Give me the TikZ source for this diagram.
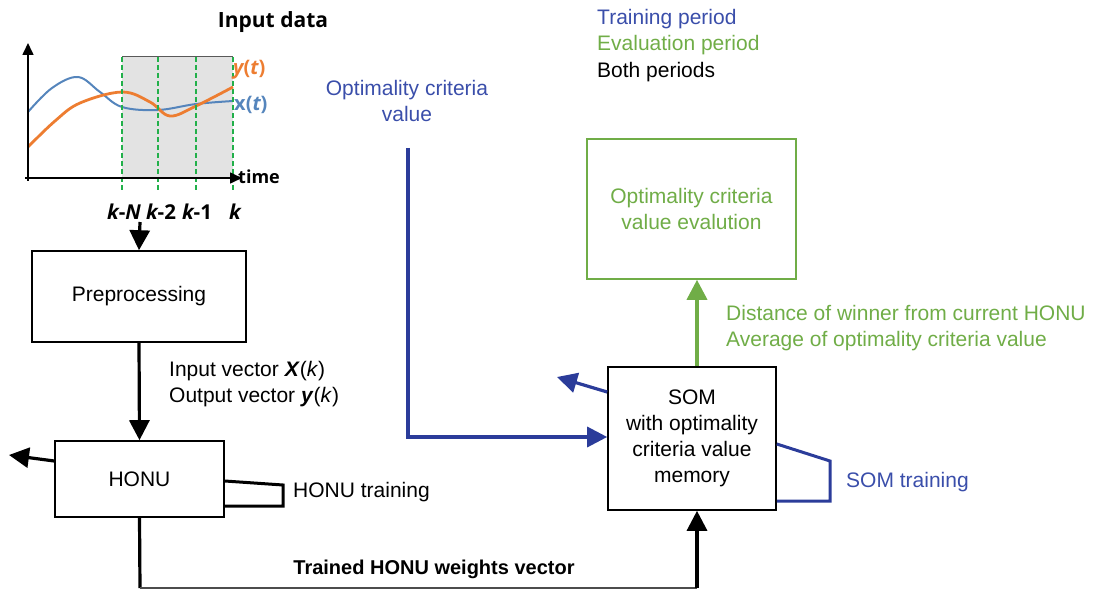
\documentclass[tikz,border=0pt]{standalone}
\usepackage{fontspec}
\setmainfont{Liberation Sans}
\newfontfamily\osans{Open Sans}
\usetikzlibrary{arrows.meta}
\definecolor{tblue}{HTML}{2B3C9A}
\definecolor{txblue}{HTML}{3A4EAA}
\definecolor{egreen}{HTML}{70AD47}
\definecolor{corange}{HTML}{ED7D31}
\definecolor{cblue}{HTML}{5585BC}
\definecolor{dgreen}{HTML}{22B04A}
\begin{document}
\begin{tikzpicture}[x=1pt,y=-1pt,
  font=\fontsize{21}{26}\selectfont,
  every node/.style={inner sep=0pt},
  box/.style={draw, line width=1.6pt, fill=white, align=center},
  conn/.style={line width=3.2pt, -{Triangle[length=20pt,width=20pt]}},
  thick3/.style={line width=3.2pt},
  bconn/.style={conn, draw=tblue},
  gconn/.style={conn, draw=egreen},
  loopline/.style={line width=3pt, line join=miter},
  bold/.style={font=\osans\bfseries\fontsize{18}{22}\selectfont},
  klab/.style={font=\osans\bfseries\fontsize{20.5}{22}\selectfont},
  wnd/.style={draw=dgreen, line width=1.3pt, dash pattern=on 5pt off 3pt}]
\useasboundingbox (0,0) rectangle (1093,591);

% ---------- chart ----------
\fill[gray!22] (122,57) rectangle (233,178);
\draw[gray!70!black, line width=1pt] (122,57) -- (233,57);
\draw[cblue, line width=2pt] plot[smooth, tension=0.6] coordinates
  {(28,112) (52,88) (78,77) (100,92) (122,107) (158,110) (196,104) (233,101)};
\draw[corange, line width=2.8pt] plot[smooth, tension=0.6] coordinates
  {(28,147) (55,121) (80,103) (122,92) (150,102) (170,116) (196,106) (233,87)};
\foreach \xx in {122,158,196,233} \draw[wnd] (\xx,57) -- (\xx,190);
\draw[line width=1.6pt, -{Triangle[length=12pt,width=11pt]}] (25,178) -- (242,178);
\draw[line width=1.6pt, -{Triangle[length=12pt,width=11pt]}] (28,181) -- (28,43);
\node[bold, anchor=west] (time) at (238,177) {time};
\node[font=\osans\bfseries\fontsize{21}{24}\selectfont] (title) at (273,22) {Input data};
\node[font=\osans\bfseries\fontsize{20}{22}\selectfont, text=corange, anchor=west] (yt) at (233,70) {\itshape y\upshape(\itshape t\upshape)};
\node[font=\osans\bfseries\fontsize{20}{22}\selectfont, text=cblue, anchor=west] (xt) at (234,105) {x(\itshape t\upshape)};
\node[klab] (kN) at (124,212) {\itshape k\upshape-\itshape N};
\node[klab] (k2) at (161,212) {\itshape k\upshape-2};
\node[klab] (k1) at (197,212) {\itshape k\upshape-1};
\node[klab] (k0) at (235,212) {\itshape k};
\coordinate (chartout) at (140,222);

% ---------- left column ----------
\node[box, minimum width=214, minimum height=91] (pre) at (139,296.5) {Preprocessing};
\node[box, minimum width=169, minimum height=76] (honu) at (139.5,479) {HONU};
\draw[conn] (chartout) -- (pre.north);
\draw[conn] (pre.south) -- (honu.north);
\node[anchor=west, align=left] (iolab) at (169,384) {Input vector \textbf{\textit{X}}(\textit{k})\\Output vector \textbf{\textit{y}}(\textit{k})};
\coordinate (honuleft) at (9,455);
\draw[conn] (honu.west |- 0,461) -- (honuleft);
\coordinate (hl1) at (283,485);
\coordinate (hl2) at (283,506);
\draw[loopline] (honu.east |- 0,481) -- (hl1) -- (hl2) -- (honu.east |- 0,506);
\node[anchor=west] (honutr) at (293,492) {HONU training};

% ---------- SOM ----------
\node[box, minimum width=168, minimum height=143] (som) at (692,438.5)
  {SOM\\with optimality\\criteria value\\memory};
\coordinate (hb) at (140,588);
\coordinate (sb) at (697,588);
\draw[thick3] (honu.south) -- (hb);
\draw[line width=1.5pt, draw=gray!60!black] (hb) -- (sb);
\draw[conn] (sb) -- (sb |- som.south);
\node[font=\bfseries\fontsize{20}{24}\selectfont] (trained) at (434,569) {Trained HONU weights vector};

\node[text=txblue, align=center] (ocv) at (407,101) {Optimality criteria\\value};
\coordinate (ocvtop) at (408,148);
\draw[bconn] (ocvtop) -- (408,437) -- (som.west |- 0,437);
\coordinate (somleftout) at (557,377);
\draw[bconn] (som.west |- 0,392) -- (somleftout);
\coordinate (sl1) at (830,461);
\coordinate (sl2) at (830,501);
\draw[loopline, draw=tblue] (som.east |- 0,444) -- (sl1) -- (sl2) -- (som.east |- 0,501);
\node[anchor=west, text=txblue] (somtr) at (846,482) {SOM training};

% ---------- evaluation ----------
\node[box, draw=egreen, text=egreen, minimum width=209, minimum height=140] (eval) at (691.5,209)
  {Optimality criteria\\value evalution};
\draw[gconn, line width=3.6pt] (som.north -| 697,0) -- (eval.south -| 697,0);
\node[anchor=west, align=left, text=egreen] (dist) at (726,328)
  {Distance of winner from current HONU\\Average of optimality criteria value};

% ---------- legend ----------
\node[anchor=west, text=txblue] (l1) at (597,19) {Training period};
\node[anchor=west, text=egreen] (l2) at (597,45) {Evaluation period};
\node[anchor=west] (l3) at (597,72) {Both periods};
\end{tikzpicture}
\end{document}
